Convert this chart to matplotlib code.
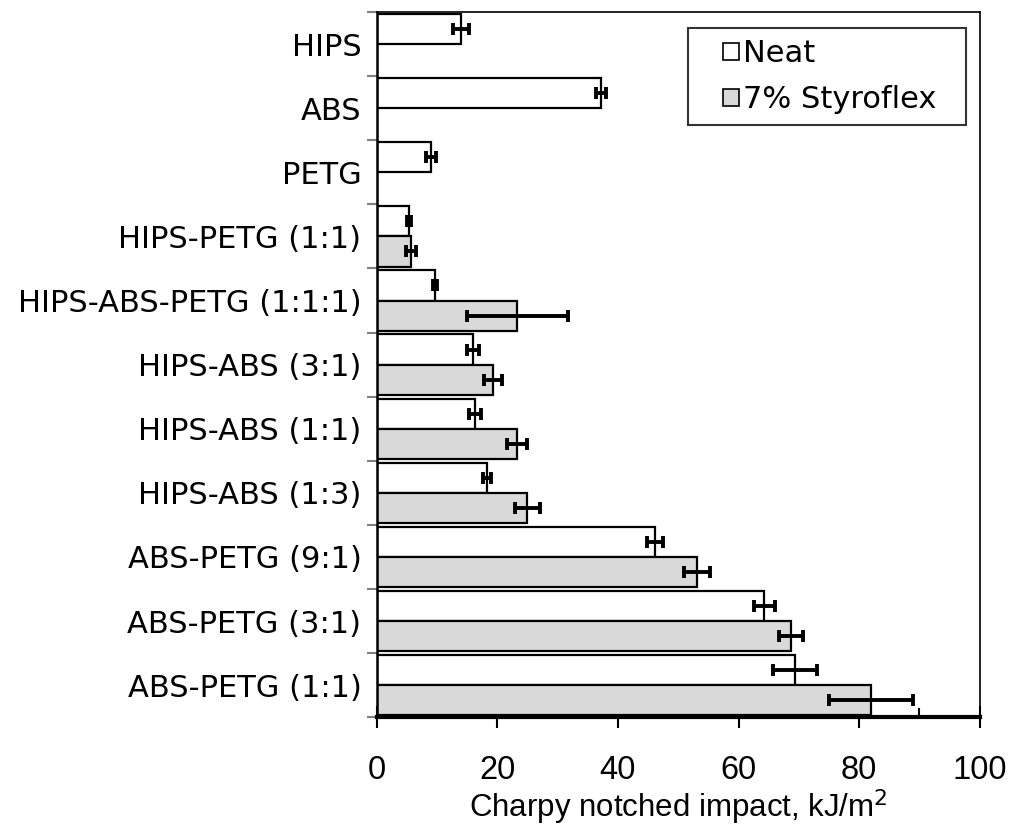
import matplotlib.pyplot as plt
import numpy as np
from matplotlib.patches import Rectangle
from matplotlib.legend_handler import HandlerPatch

categories = ['HIPS', 'ABS', 'PETG', 'HIPS-PETG (1:1)', 'HIPS-ABS-PETG (1:1:1)',
              'HIPS-ABS (3:1)', 'HIPS-ABS (1:1)', 'HIPS-ABS (1:3)',
              'ABS-PETG (9:1)', 'ABS-PETG (3:1)', 'ABS-PETG (1:1)']
neat = [14.0, 37.2, 9.0, 5.4, 9.7, 16.0, 16.3, 18.3, 46.1, 64.3, 69.4]
neat_err = [1.35, 0.9, 0.9, 0.3, 0.3, 1.0, 1.0, 0.7, 1.35, 1.8, 3.6]
# no Styroflex samples for the three neat polymers
styro = [np.nan, np.nan, np.nan, 5.7, 23.3, 19.3, 23.3, 25.0, 53.1, 68.7, 82.0]
styro_err = [np.nan, np.nan, np.nan, 0.85, 8.35, 1.5, 1.65, 2.0, 2.2, 2.05, 7.0]

plt.rcParams['font.family'] = ['DejaVu Sans']
arial = ['Liberation Sans', 'DejaVu Sans']
grey = '#d9d9d9'

fig, ax = plt.subplots(figsize=(10.1, 8.34), dpi=100)
fig.subplots_adjust(left=0.373, right=0.970, top=0.9856, bottom=0.140)

y = np.arange(len(categories))
h = 0.47
ekw = dict(elinewidth=2.8, capthick=2.8)
ax.barh(y - h / 2, neat, h, color='white', edgecolor='black', linewidth=1.6,
        zorder=2)
ax.barh(y + h / 2, styro, h, color=grey, edgecolor='black', linewidth=1.6,
        zorder=2)
ax.errorbar(neat, y - h / 2, xerr=neat_err, fmt='none', ecolor='black',
            capsize=4.5, zorder=3, **ekw)
ax.errorbar(styro, y + h / 2, xerr=styro_err, fmt='none', ecolor='black',
            capsize=4.5, zorder=3, **ekw)

ax.set_ylim(len(categories) - 0.5, -0.5)
ax.set_yticks(y)
ax.set_yticklabels(categories, fontsize=22)
ax.set_yticks(np.arange(len(categories) + 1) - 0.5, minor=True)
ax.tick_params(axis='y', which='major', length=0, pad=11)
ax.tick_params(axis='y', which='minor', length=7.5, width=1.5, color='#808080',
               direction='out')

ax.set_xlim(0, 100)
ax.set_xticks(np.arange(0, 101, 20))
ax.set_xticks(np.arange(10, 100, 20), minor=True)
ax.tick_params(axis='x', which='major', direction='inout', length=16, width=1.5,
               pad=19)
ax.tick_params(axis='x', which='minor', direction='in', length=6.5, width=1.5)
for t in ax.get_xticklabels():
    t.set_family(arial)
    t.set_fontsize(23.5)
ax.set_xlabel('Charpy notched impact, kJ/m$^2$', fontsize=22.5, family=arial,
              labelpad=1)

for s in ['top', 'right']:
    ax.spines[s].set_linewidth(1.2)
ax.spines['left'].set_linewidth(1.8)
ax.spines['bottom'].set_linewidth(3)


def square(legend, orig_handle, xdescent, ydescent, width, height, fontsize):
    s = 12
    return Rectangle((width - xdescent - s, -ydescent + (height - s) / 2), s, s)


handles = [Rectangle((0, 0), 1, 1, facecolor='white', edgecolor='black', linewidth=1.2),
           Rectangle((0, 0), 1, 1, facecolor=grey, edgecolor='black', linewidth=1.2)]
leg = ax.legend(handles, ['Neat', '7% Styroflex'], loc='upper left',
                bbox_to_anchor=(0.517, 0.977, 0.461, 0),
                mode='expand', borderaxespad=0, fontsize=22, frameon=True,
                fancybox=False, edgecolor='black', handlelength=1.32,
                handleheight=0.7, handletextpad=0.13, borderpad=0.35,
                labelspacing=0.56,
                handler_map={Rectangle: HandlerPatch(patch_func=square)})
leg.get_frame().set_linewidth(1.5)

fig.savefig('out.png', dpi=100)
